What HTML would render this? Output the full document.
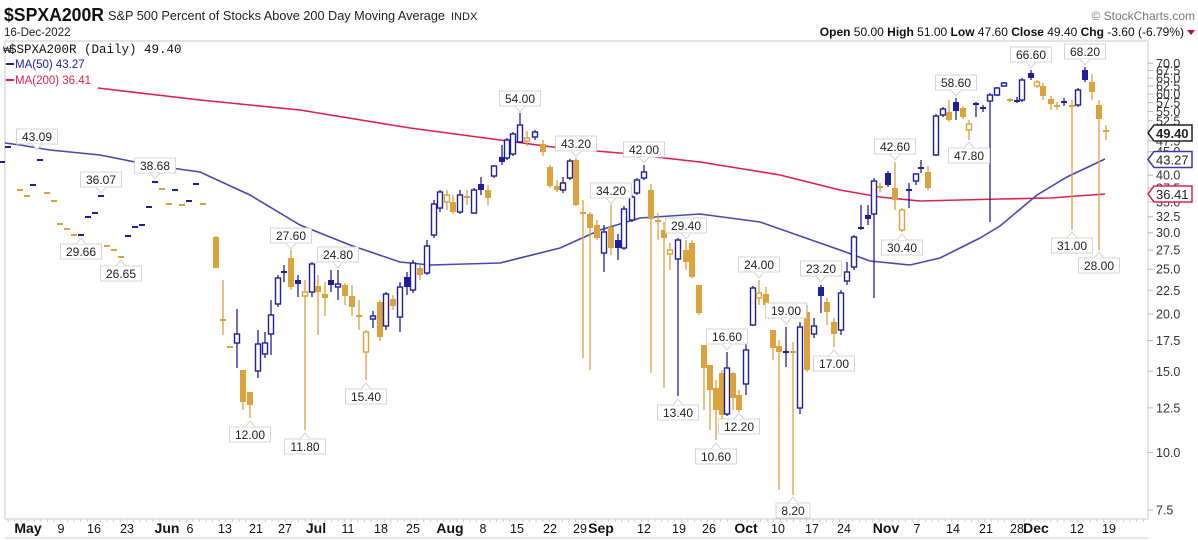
<!DOCTYPE html>
<html><head><meta charset="utf-8"><style>
body{margin:0;background:#fff;width:1198px;height:540px;overflow:hidden;font-family:"Liberation Sans",sans-serif}
svg{position:absolute;left:0;top:0}
</style></head><body>
<svg id="s" width="1198" height="540" xmlns="http://www.w3.org/2000/svg" font-family="Liberation Sans, sans-serif">
<rect x="0" y="0" width="1198" height="540" fill="#fff"/>
<text x="4" y="21" font-size="18" font-weight="bold" fill="#111" textLength="100" lengthAdjust="spacingAndGlyphs">$SPXA200R</text>
<text x="108" y="20" font-size="13" fill="#222" textLength="337" lengthAdjust="spacingAndGlyphs">S&amp;P 500 Percent of Stocks Above 200 Day Moving Average</text>
<text x="451" y="20" font-size="11" fill="#222">INDX</text>
<text x="4" y="36" font-size="11.5" fill="#222">16-Dec-2022</text>
<text x="1195" y="20" font-size="12" fill="#777" text-anchor="end">© StockCharts.com</text>
<text x="1184" y="36" font-size="12" fill="#111" text-anchor="end"><tspan font-weight="bold">Open</tspan> 50.00  <tspan font-weight="bold">High</tspan> 51.00  <tspan font-weight="bold">Low</tspan> 47.60  <tspan font-weight="bold">Close</tspan> 49.40  <tspan font-weight="bold">Chg</tspan> -3.60 (-6.79%)</text>
<path d="M1187,30 l8,0 l-4,5 z" fill="#b01040"/>
<rect x="5" y="41" width="1143" height="478" fill="none" stroke="#c8c8c8"/>
<line x1="5" y1="538" x2="1148" y2="538" stroke="#c8c8c8"/>
<g id="g"></g>
<text x="9" y="53" font-size="12.5" fill="#111" font-family="Liberation Mono, DejaVu Sans Mono, monospace">$SPXA200R (Daily) 49.40</text>
<text x="3" y="53" font-size="9" fill="#111">₩</text>
<line x1="6" y1="64" x2="14" y2="64" stroke="#2323a0" stroke-width="2"/>
<text x="15" y="68" font-size="11.5" fill="#2323a0">MA(50) 43.27</text>
<line x1="6" y1="80" x2="14" y2="80" stroke="#e0204a" stroke-width="2"/>
<text x="15" y="84" font-size="11.5" fill="#e0204a">MA(200) 36.41</text>
</svg>
<script>
const g=document.getElementById('g');let h='';
const Y=v=>510-200*Math.log(v/7.5);
const B='#1f1f9c',G='#dca23c';
[7.5,10,12.5,15,17.5,20,22.5,25,27.5,30,32.5,35,37.5,40,42.5,45,47.5,50,52.5,55,57.5,60,62.5,65,67.5,70].forEach(v=>{const y=Y(v);
h+=`<line x1="1148" y1="${y}" x2="1153" y2="${y}" stroke="#bbb"/>`;
h+=`<text x="1156" y="${y+4.5}" font-size="12.5" fill="#333">${v.toFixed(1)}</text>`;});
for(let x=8;x<1148;x+=6.6){h+=`<line x1="${x}" y1="519" x2="${x}" y2="522" stroke="#ccc"/>`;}
[["May",28,1],["9",61],["16",94],["23",127],["Jun",167,1],["6",190],["13",225],["21",256],["27",285],["Jul",316,1],["11",348],["18",381],["25",413],["Aug",450,1],["8",483],["15",517],["22",550],["29",580],["Sep",601,1],["12",644],["19",679],["26",709],["Oct",746,1],["10",778],["17",812],["24",844],["Nov",886,1],["7",917],["14",953],["21",986],["28",1017],["Dec",1036,1],["12",1077],["19",1109]].forEach(a=>{
h+=`<text x="${a[1]}" y="533" font-size="${a[2]?14:12.5}" ${a[2]?'font-weight="bold"':''} fill="#111" text-anchor="middle">${a[0]}</text>`;});
const r=[[98,88],[200,100],[300,110],[410,128],[500,140],[560,148],[620,153],[700,162],[780,175],[840,190],[880,197],[920,201],[1000,199],[1050,198],[1105,194]];
const b=[[5,143],[20,145],[50,150],[100,155],[150,165],[200,172],[250,195],[300,225],[350,245],[400,262],[430,265],[500,263],[560,248],[600,230],[640,218],[700,214],[760,222],[800,236],[840,250],[870,261],[910,265],[940,258],[980,238],[1000,226],[1037,195],[1067,177],[1105,159]];
h+=`<polyline points="${r.join(' ')}" fill="none" stroke="#e0204a" stroke-width="1.6"/>`;
h+=`<polyline points="${b.join(' ')}" fill="none" stroke="#4848b0" stroke-width="1.6"/>`;
const C=[
[2,162,162],[8,147,147],[40,160,160,0,0,'b'],[33,185,185],[20,190,190,0,0,'g'],[27,196,196,0,0,'g'],[47,193,193,0,0,'g'],[54,201,201,0,0,'g'],[60,224,224,0,0,'g'],[67,229,229,0,0,'g'],[74,235,235,0,0,'g'],[81,235,235],[88,217,217],[95,213,213],[101,196,196],[107,246,246,0,0,'g'],[114,250,250,0,0,'g'],[121,257,257,0,0,'g'],[128,236,236],[135,227,227],[142,225,225],[149,207,207],[155,182,182],[162,189,189,0,0,'g'],[169,204,204,0,0,'g'],[175,190,190],[182,205,205,0,0,'g'],[189,201,201],[196,184,184],[203,204,204,0,0,'g'],
[216,237,268,236,268,'g'],[223,320,320,280,335,'g'],[230,347,347,347,347,'g'],[237,334,343,309,368,'b',1],[243,370,402,370,410,'g'],[250,392,405,392,418,'g'],[258,344,371,330,378,'b',1],[265,343,354,332,358,'b',1],[271,315,334,300,355,'b',1],[278,278,304,275,307,'b',1],[284,271,273,265,282,'b'],[291,258,287,250,290,'g'],[298,280,284,275,297,'b'],[305,292,296,280,430,'g',1],[312,264,292,262,297,'b',1],[318,286,292,275,335,'g'],[325,294,298,282,316,'g'],[331,280,285,270,292,'b'],[338,284,287,270,300,'b',1],[345,285,296,283,305,'g'],[352,296,307,285,316,'g'],[359,315,317,300,330,'g'],[366,332,352,330,380,'g',1],[373,316,319,311,328,'b',1],[380,302,337,300,341,'g'],[386,294,326,292,330,'b',1],[393,299,306,295,310,'g'],[400,287,317,282,332,'b',1],[407,277,287,272,295,'b'],[413,263,290,260,293,'b',1],[420,268,275,265,280,'g'],
[427,246,273,240,275,'b',1],[434,204,235,200,238,'b',1],[440,192,208,190,212,'b',1],[447,195,202,190,210,'g',1],[453,202,212,195,214,'g'],[460,195,212,190,214,'b',1],[467,196,198,190,205,'g'],[474,190,213,188,214,'b',1],[481,184,190,177,195,'b'],[488,190,198,185,205,'g'],[494,166,176,165,178,'b',1],[502,157,162,145,165,'b'],[507,140,158,138,160,'b',1],[513,134,154,132,156,'b',1],[520,125,142,113,143,'b',1],[527,138,141,131,146,'g',1],[535,132,137,130,140,'b',1],[543,144,152,140,156,'g'],[550,167,186,165,188,'g'],[557,186,190,180,192,'g'],[563,183,190,177,193,'b',1],[570,161,178,159,180,'b',1],[576,160,205,158,206,'g'],[583,212,214,200,358,'g'],[590,214,228,212,370,'g'],[597,225,238,220,240,'g'],[604,232,253,225,272,'b',1],[611,227,248,205,255,'g'],[618,240,248,234,260,'b'],[624,209,248,206,250,'b',1],[632,197,220,195,222,'b',1],[637,180,193,178,195,'b',1],[644,172,178,165,180,'b',1],
[651,190,219,184,373,'g'],[658,220,222,213,240,'g'],[664,230,238,222,388,'g'],[670,250,254,243,270,'g',1],[678,240,259,238,396,'b',1],[686,250,262,240,270,'g'],[692,243,277,240,278,'g'],[699,285,313,285,315,'g'],[704,345,368,345,410,'g'],[710,365,390,365,430,'g'],[716,388,410,380,440,'g'],[722,373,415,370,425,'g'],[727,368,414,352,416,'b',1],[733,373,398,372,410,'g'],[739,395,410,390,412,'g'],[746,350,384,340,395,'b',1],[753,288,325,286,326,'b',1],[759,293,298,280,305,'g',1],[766,294,305,287,315,'g'],[773,330,348,330,360,'g'],[779,346,352,340,490,'g'],[786,351,353,327,367,'b'],[793,351,353,342,495,'g'],[800,327,408,322,414,'b',1],[807,312,370,305,372,'g'],[814,326,334,318,338,'b',1],[821,287,296,285,313,'b'],[827,302,312,298,325,'g'],[834,322,334,318,347,'g'],
[841,293,330,290,335,'b',1],[847,272,281,262,285,'b',1],[854,237,267,235,270,'b',1],[861,227,229,205,230,'b'],[868,215,219,205,225,'b'],[874,181,214,178,298,'b',1],[880,186,188,183,192,'g'],[888,173,185,171,187,'b'],[895,188,200,162,210,'g'],[902,210,230,208,232,'g',1],[909,189,191,183,208,'b'],[916,174,181,173,185,'b',1],[921,167,169,160,173,'b'],[928,172,188,166,190,'g'],[936,116,155,114,156,'b',1],[943,109,115,107,117,'b',1],[949,112,120,100,122,'g'],[956,102,111,98,120,'b'],[963,108,117,106,119,'g'],[969,124,130,120,140,'g',1],[976,103,105,102,117,'b'],[983,107,109,105,112,'b'],[990,95,101,93,222,'b',1],[997,88,95,87,96,'b',1],[1004,83,86,82,87,'b',1],[1010,99,101,98,102,'g'],[1017,100,102,97,103,'b'],[1022,80,100,78,102,'b',1],[1031,73,78,70,80,'b'],
[1037,82,86,80,88,'g',1],[1043,86,96,83,100,'g'],[1051,99,104,96,110,'g'],[1057,105,107,102,110,'g'],[1064,101,103,98,106,'b'],[1072,105,107,100,230,'g'],[1078,90,105,88,107,'b',1],[1085,70,80,67,82,'b'],[1092,82,92,74,100,'g'],[1099,105,119,100,250,'g'],[1106,130,132,125,140,'g']];
C.forEach(c=>{let[x,bt,bb,wt,wb,col,ho]=c;col=col==='g'?G:B;wt=wt||bt;wb=wb||bb;
if(wb>wt)h+=`<line x1="${x}" y1="${wt}" x2="${x}" y2="${wb}" stroke="${col}" stroke-width="1.3"/>`;
if(bb-bt<2.5){h+=`<rect x="${x-3}" y="${(bt+bb)/2-1}" width="6" height="2" fill="${col}"/>`;}
else if(ho)h+=`<rect x="${x-2.5}" y="${bt}" width="5" height="${bb-bt}" fill="#fff" stroke="${col}" stroke-width="1.4"/>`;
else h+=`<rect x="${x-3}" y="${bt}" width="6" height="${bb-bt}" fill="${col}"/>`;});
const L=[["43.09",37,150,1],["36.07",101,193,1],["38.68",155,179,1],["29.66",81,238,0],["26.65",121,260,0],["27.60",291,249,1],["24.80",338,268,1],["12.00",250,421,0],["11.80",305,433,0],["15.40",366,383,0],["54.00",520,112,1],["43.20",576,157,1],["34.20",611,204,1],["42.00",644,163,1],["29.40",686,239,1],["13.40",678,399,0],["16.60",727,350,1],["24.00",759,278,1],["19.00",786,324,1],["23.20",821,282,1],["12.20",739,413,0],["10.60",716,443,0],["8.20",793,497,0],["17.00",834,350,0],["42.60",895,160,1],["30.40",902,234,0],["58.60",956,96,1],["47.80",969,142,0],["66.60",1031,68,1],["68.20",1085,65,1],["31.00",1072,232,0],["28.00",1099,252,0]];
L.forEach(l=>{let[t,x,ty,ab]=l;const w=t.length*7+6,hh=15;let by=ab?ty-6-hh:ty+6;
h+=`<rect x="${x-w/2}" y="${by}" width="${w}" height="${hh}" fill="#fff" stroke="#d4d4d4"/>`;
h+=ab?`<path d="M${x-5},${by+hh} L${x},${ty} L${x+5},${by+hh}" fill="#fff" stroke="#d4d4d4"/>`:`<path d="M${x-5},${by} L${x},${ty} L${x+5},${by}" fill="#fff" stroke="#d4d4d4"/>`;
h+=`<text x="${x}" y="${by+12}" font-size="12" fill="#222" text-anchor="middle">${t}</text>`;});
[["49.40",Y(49.4),'#222',1],["43.27",Y(43.27),'#3a3ab0'],["36.41",Y(36.41),'#e0204a']].forEach(a=>{const y=a[1];
h+=`<path d="M1148,${y} L1154,${y-8} L1192,${y-8} L1192,${y+8} L1154,${y+8} Z" fill="#fff" stroke="${a[2]}" stroke-width="1.5"/>`;
h+=`<text x="1156" y="${y+5}" font-size="13" ${a[3]?'font-weight="bold"':''} fill="#222">${a[0]}</text>`;});
g.innerHTML=h;
</script>
</body></html>
